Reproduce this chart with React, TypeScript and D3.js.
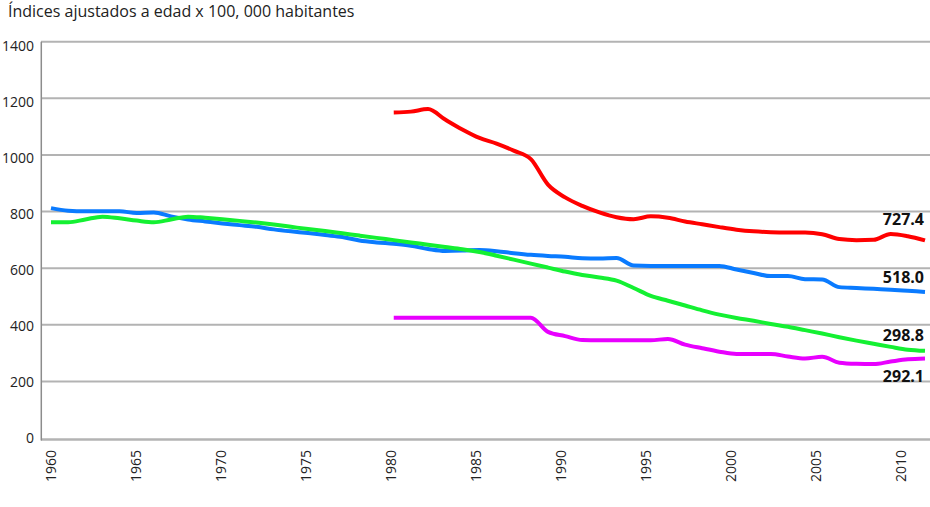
import React, { useRef, useEffect } from 'react';
import * as d3 from 'd3';

const title = 'Índices ajustados a edad x 100, 000 habitantes';

const yearsFull = d3.range(1960, 2012);
const yearsLate = d3.range(1980, 2012);
const tickYears = [1960, 1965, 1970, 1975, 1980, 1985, 1990, 1995, 2000, 2005, 2010];
const yTicks = [0, 200, 400, 600, 800, 1000, 1200, 1400];

const blueValues = [
  812, 803, 801, 801, 801, 795, 797, 783, 772, 765,
  758, 752, 746, 737, 730, 724, 717, 710, 698, 691,
  686, 679, 668, 661, 662, 664, 660, 653, 647, 643,
  640, 635, 634, 636, 609, 608, 608, 608, 608, 608,
  595, 583, 572, 572, 561, 560, 533, 530, 527, 524,
  520, 516,
];

const greenValues = [
  762, 762, 772, 782, 776, 768, 762, 772, 782, 778,
  773, 767, 761, 754, 746, 738, 731, 723, 715, 707,
  699, 691, 683, 675, 667, 657, 644, 630, 616, 602,
  588, 576, 567, 556, 530, 502, 485, 468, 451, 436,
  424, 414, 403, 393, 381, 369, 356, 344, 333, 322,
  312, 308,
];

const redValues = [
  1150, 1153, 1162, 1125, 1090, 1060, 1040, 1015, 985, 895,
  850, 820, 797, 780, 773, 783, 778, 765, 755, 745,
  736, 730, 727, 726, 726, 720, 703, 699, 700, 721,
  713, 698,
];

const purpleValues = [
  425, 425, 425, 425, 425, 425, 425, 425, 425, 375,
  360, 346, 345, 345, 345, 345, 350, 330, 317, 305,
  297, 297, 297, 288, 281, 287, 266, 262, 261, 270,
  278, 281,
];

const endLabels = ['727.4', '518.0', '298.8', '292.1'];

const series = [
  { years: yearsFull, values: blueValues, color: '#0a7bff' },
  { years: yearsFull, values: greenValues, color: '#14f032' },
  { years: yearsLate, values: redValues, color: '#ff0000' },
  { years: yearsLate, values: purpleValues, color: '#e800ff' },
];

// vertical nudges for the end labels, top to bottom
const labelOffsets = [-7, -8, -12, 27];

const App: React.FC = () => {
  const chartRef = useRef<HTMLDivElement>(null);

  useEffect(() => {
    d3.select(chartRef.current).select('svg').remove();

    const width = 930;
    const height = 507;
    const font = '"Open Sans", "Noto Sans", sans-serif';

    const svg = d3.select(chartRef.current)
      .append('svg')
      .attr('width', width)
      .attr('height', height)
      .style('position', 'absolute')
      .style('left', '0px')
      .style('top', '0px')
      .style('font-family', font);

    const x = d3.scaleLinear().domain([1960, 2011]).range([51, 925]);
    const xLabel = d3.scaleLinear().domain([1960, 2010]).range([51, 900.5]);
    const y = d3.scaleLinear().domain([0, 1400]).range([438, 41.7]);
    const yLabel = d3.scaleLinear().domain([0, 1400]).range([438, 46]);

    svg.append('text')
      .attr('x', 8)
      .attr('y', 17)
      .style('font-size', '16px')
      .attr('fill', '#222')
      .text(title);

    // gridlines
    svg.selectAll('.grid')
      .data(yTicks.filter(d => d > 0))
      .enter().append('line')
      .attr('class', 'grid')
      .attr('x1', 41)
      .attr('x2', width)
      .attr('y1', d => y(d))
      .attr('y2', d => y(d))
      .style('stroke', '#b3b3b3')
      .style('stroke-width', '2px');

    svg.append('line')
      .attr('x1', 41)
      .attr('x2', width)
      .attr('y1', y(0) + 1.5)
      .attr('y2', y(0) + 1.5)
      .style('stroke', '#b3b3b3')
      .style('stroke-width', '2.5px');

    svg.append('line')
      .attr('x1', 41.3)
      .attr('x2', 41.3)
      .attr('y1', y(1400))
      .attr('y2', y(0) + 2.5)
      .style('stroke', '#8c8c8c')
      .style('stroke-width', '1.5px');

    svg.selectAll('.yLabel')
      .data(yTicks)
      .enter().append('text')
      .attr('class', 'yLabel')
      .attr('x', 34)
      .attr('y', d => yLabel(d))
      .attr('dy', '0.36em')
      .attr('text-anchor', 'end')
      .style('font-size', '14px')
      .attr('fill', '#222')
      .text(d => d.toString());

    svg.selectAll('.xLabel')
      .data(tickYears)
      .enter().append('text')
      .attr('class', 'xLabel')
      .attr('transform', d => `translate(${xLabel(d)},450) rotate(-90)`)
      .attr('dy', '0.36em')
      .attr('text-anchor', 'end')
      .style('font-size', '14px')
      .attr('fill', '#222')
      .text(d => d.toString());

    const line = d3.line<[number, number]>()
      .curve(d3.curveMonotoneX)
      .x(d => x(d[0]))
      .y(d => y(d[1]));

    series.forEach(s => {
      const pts: [number, number][] = s.years.map((yr, i) => [yr, s.values[i]]);
      svg.append('path')
        .datum(pts)
        .attr('d', line)
        .style('fill', 'none')
        .style('stroke', s.color)
        .style('stroke-width', '4px')
        .style('stroke-linejoin', 'round');
    });

    svg.selectAll('.endLabel')
      .data(endLabels)
      .enter().append('text')
      .attr('class', 'endLabel')
      .attr('x', x(2011) - 1)
      .attr('y', (d, i) => y(+d) + labelOffsets[i])
      .attr('text-anchor', 'end')
      .style('font-size', '16px')
      .style('font-weight', 'bold')
      .attr('fill', '#111')
      .text(d => d);
  }, []);

  return (
    <div ref={chartRef} />
  );
};

export default App;
